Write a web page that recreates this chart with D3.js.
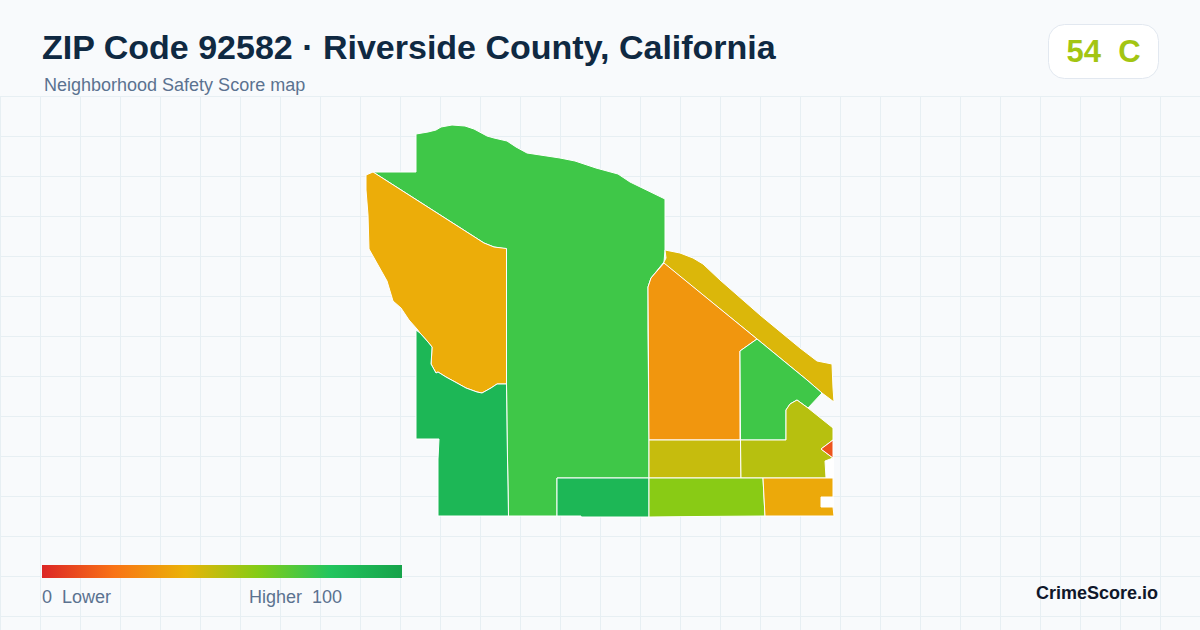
<!DOCTYPE html>
<html>
<head>
<meta charset="utf-8">
<script src="https://cdn.jsdelivr.net/npm/d3@7"></script>
<style>
  html, body { margin: 0; padding: 0; background: #f8fafc; }
  svg { display: block; font-family: "Liberation Sans", Arial, sans-serif; }
  text { white-space: pre; }
</style>
</head>
<body>
<div id="chart"></div>
<script>
// colour ramp of the legend
var rampScores = [0, 20, 40, 60, 80, 100];
var rampColors = ["#dc2626", "#f97316", "#eab308", "#84cc16", "#22c55e", "#16a34a"];

var overallScore = 54;
var overallGrade = "C";

// neighborhoods, painted in this order
var zoneNames = ["north", "northwest", "west", "south", "strip", "central", "east", "midsouth", "eastsouth", "spot", "lime", "southeast"];
var zoneScores = [74, 38, 88, 88, 43, 31, 74, 47, 50, 12, 59, 37];

// outlines, in map units (origin at the top left of the zip's box)
var zoneRings = [
  [[50,9],[62,7],[70,5],[75,2],[86,0],[99,1],[108,4],[121,11],[128,13],[141,16],[150,22],[161,28],[194,33],[209,36],[230,43],[252,49],[264,57],[299,74],[299,125],[298,137],[285,153],[282,162],[282,205],[283,315],[283,353],[191,353],[191,391],[142.5,391],[142,363],[141,305],[140.5,259],[140.5,124],[128,122],[118,118],[7,47],[50,47]],
  [[0,50],[7,47],[118,118],[128,122],[140.5,123.5],[140.5,259],[131,259],[125,263],[116,268],[111,267],[100,263],[91,258],[80,252],[72,247],[70,248],[65,239],[65.5,232],[66,222],[62,217],[54,208],[51,204],[43,195],[35,183],[27,176],[21,156],[3,124],[2,90],[0,65]],
  [[50,205],[54,208],[62,217],[66,222],[65.5,232],[65,239],[70,248],[72,247],[80,252],[91,258],[100,263],[111,267],[116,268],[125,263],[131,259],[140.5,259],[141,305],[142,363],[142.5,391],[72,391],[72,334],[73,314],[50,314]],
  [[191,353],[283,353],[283,392],[215,392],[215,391],[191,391]],
  [[299,125],[314,128],[327,133],[337,139],[354,155],[394,190],[434,223],[451,236],[466,239],[467,263],[468,277],[456,268],[441,255],[391,214],[297.5,138],[300,133]],
  [[298,138],[391,214],[374,226],[374,315],[283,315],[282,162],[285,153]],
  [[391,214],[374,226],[374.5,315],[420,315],[420,285],[424,279],[431,275],[442,283],[456,268],[441,255]],
  [[283,315],[374.5,315],[375,353],[283,353]],
  [[374.5,315],[420,315],[420,285],[424,279],[431,275],[442,283],[467,303],[467,315],[455,324],[467,333],[459,336],[460,353],[375,353]],
  [[467,315],[455,324],[467,333]],
  [[283,353],[397,353],[399,391],[330,391.5],[283,392]],
  [[397,353],[467,353],[467,372],[455,372],[455,382],[467,382],[468,391],[399,391]]
];

// small pockets inside the box that carry no score
var emptyRings = [
  [[458,334],[468,333],[468,353],[460,353]],
  [[455,372],[468,372],[468,382],[455,382]]
];

var width = 1200, height = 630;

var svg = d3.select("#chart").append("svg")
    .attr("width", width)
    .attr("height", height);

svg.append("rect")
    .attr("width", width)
    .attr("height", height)
    .attr("fill", "#f8fafc");

// background grid
var grid = svg.append("g").attr("stroke", "#e7eff3").attr("stroke-width", 1);
grid.selectAll(".gx").data(d3.range(0, width, 40)).enter().append("line")
    .attr("x1", function (d) { return d + 0.5; })
    .attr("x2", function (d) { return d + 0.5; })
    .attr("y1", 96)
    .attr("y2", height);
grid.selectAll(".gy").data(d3.range(96, height, 40)).enter().append("line")
    .attr("x1", 0)
    .attr("x2", width)
    .attr("y1", function (d) { return d + 0.5; })
    .attr("y2", function (d) { return d + 0.5; });

var color = d3.scaleLinear().domain(rampScores).range(rampColors);

var x = d3.scaleLinear().domain([0, 467]).range([366, 833]);
var y = d3.scaleLinear().domain([0, 392]).range([125, 517]);

var line = d3.line()
    .x(function (d) { return x(d[0]); })
    .y(function (d) { return y(d[1]); })
    .curve(d3.curveLinearClosed);

var map = svg.append("g");

map.selectAll(".empty").data(emptyRings).enter().append("path")
    .attr("class", "empty")
    .attr("d", line)
    .attr("fill", "#ffffff");

map.selectAll(".zone").data(zoneRings).enter().append("path")
    .attr("class", "zone")
    .attr("id", function (d, i) { return "zone-" + zoneNames[i]; })
    .attr("d", line)
    .attr("fill", function (d, i) { return color(zoneScores[i]); })
    .attr("stroke", "#ffffff")
    .attr("stroke-width", 1)
    .attr("stroke-linejoin", "round");

// header
svg.append("text")
    .attr("x", 42)
    .attr("y", 59)
    .attr("font-size", 34)
    .attr("font-weight", 700)
    .attr("fill", "#0f2942")
    .text("ZIP Code 92582 · Riverside County, California");

svg.append("text")
    .attr("x", 44)
    .attr("y", 91)
    .attr("font-size", 18)
    .attr("fill", "#5b7290")
    .text("Neighborhood Safety Score map");

// score badge
svg.append("rect")
    .attr("x", 1048.5)
    .attr("y", 24.5)
    .attr("width", 110)
    .attr("height", 54)
    .attr("rx", 16)
    .attr("fill", "#ffffff")
    .attr("stroke", "#e2e8f0");

svg.append("text")
    .attr("x", 1103.5)
    .attr("y", 62)
    .attr("text-anchor", "middle")
    .attr("font-size", 31)
    .attr("font-weight", 700)
    .attr("fill", color(overallScore))
    .text(overallScore + "  " + overallGrade);

// legend
var legendX = d3.scaleLinear().domain([0, 100]).range([42, 402]);

var gradient = svg.append("defs").append("linearGradient")
    .attr("id", "ramp");
gradient.selectAll("stop").data(rampScores).enter().append("stop")
    .attr("offset", function (d) { return d + "%"; })
    .attr("stop-color", function (d) { return color(d); });

svg.append("rect")
    .attr("x", legendX(0))
    .attr("y", 565)
    .attr("width", legendX(100) - legendX(0))
    .attr("height", 13)
    .attr("fill", "url(#ramp)");

svg.append("text")
    .attr("x", 42)
    .attr("y", 603)
    .attr("font-size", 18)
    .attr("fill", "#5b7290")
    .text("0  Lower");

svg.append("text")
    .attr("x", 249)
    .attr("y", 603)
    .attr("font-size", 18)
    .attr("fill", "#5b7290")
    .text("Higher  100");

svg.append("text")
    .attr("x", 1158)
    .attr("y", 599)
    .attr("text-anchor", "end")
    .attr("font-size", 18)
    .attr("font-weight", 700)
    .attr("fill", "#0f172a")
    .text("CrimeScore.io");
</script>
</body>
</html>
